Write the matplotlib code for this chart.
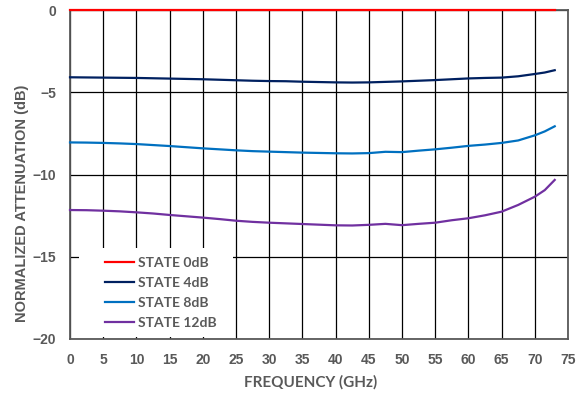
import matplotlib as mpl
mpl.use('Agg')
import matplotlib.pyplot as plt
from matplotlib.patches import Rectangle

# measured attenuation per state, normalized to state 0dB
freq = [0, 2.5, 5, 7.5, 10, 12.5, 15, 17.5, 20, 22.5, 25, 27.5, 30, 32.5, 35,
        37.5, 40, 42.5, 45, 47.5, 50, 52.5, 55, 57.5, 60, 62.5, 65, 67.5, 70,
        71.5, 73]
state_0db = [0.0] * len(freq)
state_4db = [-4.09, -4.10, -4.11, -4.12, -4.13, -4.15, -4.17, -4.19, -4.21,
             -4.24, -4.27, -4.30, -4.32, -4.33, -4.36, -4.38, -4.40, -4.41,
             -4.40, -4.37, -4.34, -4.30, -4.26, -4.21, -4.16, -4.13, -4.11,
             -4.03, -3.89, -3.80, -3.66]
state_8db = [-8.05, -8.06, -8.08, -8.11, -8.15, -8.21, -8.27, -8.34, -8.41,
             -8.47, -8.53, -8.58, -8.61, -8.64, -8.67, -8.69, -8.71, -8.72,
             -8.70, -8.62, -8.64, -8.55, -8.47, -8.37, -8.26, -8.18, -8.08,
             -7.93, -7.62, -7.38, -7.07]
state_12db = [-12.16, -12.17, -12.20, -12.24, -12.30, -12.37, -12.46, -12.54,
              -12.62, -12.71, -12.81, -12.88, -12.93, -12.97, -13.01, -13.05,
              -13.09, -13.10, -13.06, -13.00, -13.08, -13.00, -12.93, -12.78,
              -12.66, -12.48, -12.26, -11.85, -11.35, -10.95, -10.33]

series = [("STATE 0dB", state_0db, "#ff0000"),
          ("STATE 4dB", state_4db, "#002060"),
          ("STATE 8dB", state_8db, "#0070c0"),
          ("STATE 12dB", state_12db, "#7030a0")]

x_ticks = list(range(0, 80, 5))
y_ticks = [0, -5, -10, -15, -20]

W, H = 588, 394
fig = plt.figure(figsize=(W / 100, H / 100), dpi=100)
ax = fig.add_axes([70 / W, (H - 339) / H, 498 / W, 329 / H])

for label, vals, color in series:
    ax.plot(freq, vals, color=color, lw=1.6, label=label, clip_on=False,
            zorder=3)

ax.set_xlim(0, 75)
ax.set_ylim(-20, 0)
ax.set_xticks(x_ticks)
ax.set_yticks(y_ticks)
ax.grid(True, color='black', lw=0.9, zorder=1)
ax.set_axisbelow(True)
ax.tick_params(length=0, labelsize=10, labelcolor='#595959')
ax.tick_params(axis='x', pad=10)
ax.tick_params(axis='y', pad=10)
for lab in ax.get_xticklabels() + ax.get_yticklabels():
    lab.set_family('Liberation Sans')
    lab.set_fontweight('bold')
for sp in ax.spines.values():
    sp.set_color('#595959')
    sp.set_linewidth(1.3)

ax.set_xlabel("FREQUENCY (GHz)", fontsize=11, fontweight='bold',
              color='#595959', family='Lato')
ax.xaxis.set_label_coords((311 - 70) / 498, -(382 - 339) / 329)
ax.xaxis.label.set_va('center')
ax.set_ylabel("NORMALIZED ATTENUATION (dB)", fontsize=10.5, fontweight='bold',
              color='#595959', family='Liberation Sans')
ax.yaxis.set_label_coords(-(70 - 22) / 498, (339 - 203) / 329)
ax.yaxis.label.set_va('center')

# white block behind the legend hides the grid there
ax.add_patch(Rectangle((79 / W, (H - 337) / H), 154 / W, 89 / H,
                       transform=fig.transFigure, facecolor='white',
                       edgecolor='none', zorder=4))

leg = ax.legend(loc='upper left', bbox_to_anchor=(105 / W, (H - 257) / H),
                bbox_transform=fig.transFigure, frameon=False,
                prop={'family': 'Lato', 'weight': 'bold', 'size': 10},
                handlelength=2.1, handletextpad=0.3, labelspacing=0.58,
                borderpad=0, borderaxespad=0)
for t in leg.get_texts():
    t.set_color('#595959')
leg.set_zorder(5)

fig.savefig("out.png", dpi=100)
